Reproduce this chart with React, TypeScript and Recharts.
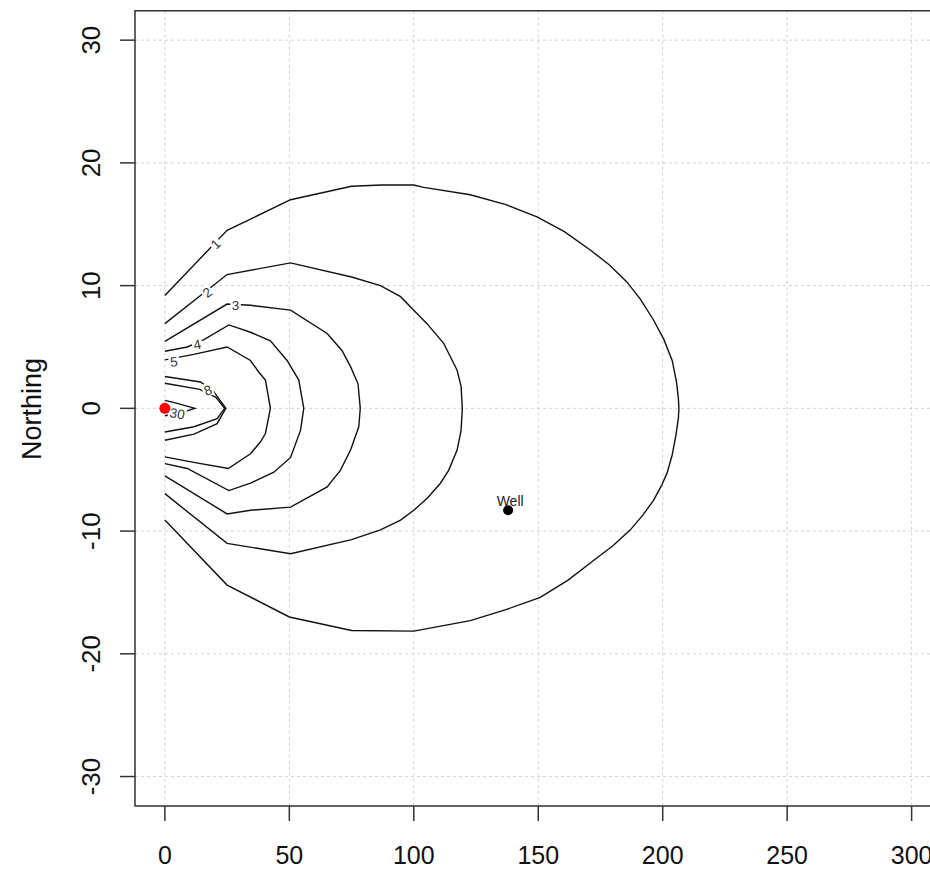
import React from 'react';
import { ComposedChart, Scatter, XAxis, YAxis, CartesianGrid, ReferenceArea } from 'recharts';

// ---- axis ticks ----
const X_TICKS = [0, 50, 100, 150, 200, 250, 300];
const Y_TICKS = [-30, -20, -10, 0, 10, 20, 30];
const X_DOMAIN = [-12, 312];
const Y_DOMAIN = [-32.4, 32.4];

// ---- contour polylines [easting, northing] ----
const CONTOUR_1: number[][] = [
  [0, -9.1], [25, -14.4], [50, -17.0], [75, -18.1], [100, -18.15], [122.7, -17.3], [137, -16.4],
  [150.8, -15.4], [162, -14.0], [172.2, -12.4], [180, -11.2], [187, -9.9], [192, -8.7], [196.3, -7.5],
  [199.5, -6.3], [201.7, -5.3], [203.8, -3.8], [205.3, -2.2], [206.3, -0.8], [206.5, 0],
  [206.3, 0.8], [205.5, 2.2], [203.8, 3.9], [200.5, 5.6], [196.3, 7.2], [191, 8.9], [185.6, 10.3],
  [178.5, 11.7], [170.9, 12.9], [160.5, 14.4], [149.5, 15.6], [137, 16.6], [122.7, 17.4],
  [104, 18.0], [100, 18.2], [87, 18.2], [75, 18.1], [50.5, 17.0], [25, 14.5], [0, 9.2],
];
const CONTOUR_2: number[][] = [
  [0, -6.95], [25, -11.0], [50.5, -11.85], [75, -10.7], [86.6, -9.9], [94.7, -9.1], [100, -8.3],
  [105.5, -7.3], [110.7, -6.1], [114, -5.05], [117.4, -3.4], [119, -1.8], [119.5, 0],
  [119, 1.8], [117.4, 3.1], [114.7, 4.2], [112, 5.3], [105.3, 6.9], [100, 8.0], [94.7, 9.1],
  [86.6, 10.0], [75, 10.7], [50.5, 11.85], [25, 10.9], [0, 6.9],
];
const CONTOUR_3: number[][] = [
  [0, -5.5], [25, -8.6], [34.4, -8.3], [50.5, -8.05], [65.2, -6.4], [70.5, -5.05], [74.6, -3.4],
  [77.9, -1.5], [78.5, 0], [77.6, 2.0], [74.6, 3.4], [71.2, 4.7], [65.2, 6.1], [50.5, 8.0],
  [34.4, 8.4], [25, 8.5], [0, 5.45],
];
const CONTOUR_4: number[][] = [
  [0, -4.5], [9, -4.9], [25.7, -6.7], [34.4, -6.1], [43.8, -5.2], [50.5, -4.0], [54.5, -1.8],
  [55.8, 0], [53.8, 2.3], [49.1, 3.9], [42.4, 5.5], [34.4, 6.2], [25.7, 6.8], [15.7, 5.6],
  [9, 5.0], [0, 4.65],
];
const CONTOUR_5: number[][] = [
  [0, -3.95], [11.6, -4.4], [25.5, -4.9], [34.4, -3.7], [38.5, -2.7], [40.4, -2.05], [42.4, 0],
  [40.4, 2.3], [37.7, 2.96], [34.4, 3.9], [25, 5.0], [11.6, 4.4], [0, 3.95],
];
const CONTOUR_6: number[][] = [
  [0, -2.6], [11.7, -2.1], [21, -1.25], [24.5, 0], [19.5, 1.4], [14.3, 2.15], [0, 2.6],
];
const CONTOUR_8: number[][] = [
  [0, -1.93], [11.7, -1.5], [21, -0.85], [24, 0], [20.5, 0.9], [14, 1.55], [0, 2.05],
];
const CONTOUR_30: number[][] = [
  [0, -0.6], [6, -0.4], [12, 0], [10.3, 0.1], [5, 0.4], [0, 0.65],
];
const CONTOURS = [CONTOUR_1, CONTOUR_2, CONTOUR_3, CONTOUR_4, CONTOUR_5, CONTOUR_6, CONTOUR_8, CONTOUR_30];

// ---- contour labels ----
const LABEL_TEXT = ['1', '2', '3', '4', '5', '8', '30'];
const LABEL_X = [20.4, 17.0, 28.4, 13, 3.6, 17.3, 5];
const LABEL_Y = [13.4, 9.45, 8.4, 5.2, 3.8, 1.47, -0.43];
const LABEL_ANGLE: Record<string, number> = { '1': -45, '2': -38, '3': 0, '4': -12, '5': -4, '8': -20, '30': 10 };

// ---- points ----
const SOURCE = [{ x: 0, y: 0 }];
const WELL = [{ x: 137.9, y: -8.3, name: 'Well' }];

const toPts = (arr: number[][]) => arr.map(([x, y]) => ({ x, y }));
const LABELS = LABEL_TEXT.map((t, i) => ({ x: LABEL_X[i], y: LABEL_Y[i], text: t }));

const FONT = '"Liberation Sans", Arial, sans-serif';

const XTick = (props: any) => {
  const { x, y, payload } = props;
  return (
    <text x={x} y={y} dy="0.71em" textAnchor="middle" fontSize={25} fill="#111" fontFamily={FONT}>
      {payload.value}
    </text>
  );
};

const YTick = (props: any) => {
  const { x, y, payload } = props;
  return (
    <text x={x} y={y} textAnchor="middle" fontSize={26} fill="#111" fontFamily={FONT}
      transform={`rotate(-90, ${x}, ${y})`}>
      {payload.value}
    </text>
  );
};

const NoShape = () => <g />;

const LabelShape = (props: any) => {
  const { cx, cy, payload } = props;
  const t: string = payload.text;
  const ang = LABEL_ANGLE[t] ?? 0;
  const w = t.length * 7.5 + 3;
  return (
    <g transform={`translate(${cx},${cy}) rotate(${ang})`}>
      <rect x={-w / 2} y={-7} width={w} height={13} fill="#fff" />
      <text x={0} y={0} dy="0.35em" textAnchor="middle" fontSize={13.5} fill="#333" fontFamily={FONT}>{t}</text>
    </g>
  );
};

const SourceShape = (props: any) => <circle cx={props.cx} cy={props.cy} r={5.5} fill="#ff0000" />;

const WellShape = (props: any) => (
  <g>
    <circle cx={props.cx} cy={props.cy} r={5} fill="#000" />
    <text x={props.cx + 2} y={props.cy - 4} textAnchor="middle" fontSize={14} fill="#222" fontFamily={FONT}>
      {props.payload.name}
    </text>
  </g>
);

export default function App() {
  return (
    <div style={{ position: 'absolute', left: 0, top: 0, width: 930, height: 869, overflow: 'hidden', background: '#fff', fontFamily: FONT }}>
      <div style={{ position: 'absolute', left: 0, top: 0 }}>
        <ComposedChart width={960} height={869} margin={{ top: 10.7, right: 18.5, bottom: 0, left: 0 }}>
          <CartesianGrid stroke="#d3d3d3" strokeDasharray="3 3" strokeWidth={1} />
          <XAxis
            type="number"
            dataKey="x"
            domain={X_DOMAIN}
            ticks={X_TICKS}
            allowDataOverflow
            height={63}
            tickSize={15}
            tickMargin={25}
            axisLine={false}
            tickLine={{ stroke: '#333', strokeWidth: 1.5 }}
            tick={<XTick />}
          />
          <YAxis
            type="number"
            dataKey="y"
            domain={Y_DOMAIN}
            ticks={Y_TICKS}
            allowDataOverflow
            width={135}
            tickSize={15}
            tickMargin={20}
            axisLine={false}
            tickLine={{ stroke: '#333', strokeWidth: 1.5 }}
            tick={<YTick />}
          />
          <ReferenceArea x1={X_DOMAIN[0]} x2={X_DOMAIN[1]} y1={Y_DOMAIN[0]} y2={Y_DOMAIN[1]}
            fill="none" fillOpacity={0} stroke="#333" strokeWidth={1.5} ifOverflow="visible" />
          {CONTOURS.map((c, i) => (
            <Scatter key={i} data={toPts(c)} line={{ stroke: '#111', strokeWidth: 1.4 }} lineType="joint"
              shape={<NoShape />} isAnimationActive={false} />
          ))}
          <Scatter data={LABELS} shape={<LabelShape />} isAnimationActive={false} />
          <Scatter data={WELL} shape={<WellShape />} isAnimationActive={false} />
          <Scatter data={SOURCE} shape={<SourceShape />} isAnimationActive={false} />
        </ComposedChart>
      </div>
      <svg style={{ position: 'absolute', left: 0, top: 0, pointerEvents: 'none' }} width={60} height={869}>
        <text x={41} y={409} textAnchor="middle" fontSize={27} fill="#111" fontFamily={FONT}
          transform="rotate(-90, 41, 409)">Northing</text>
      </svg>
    </div>
  );
}
